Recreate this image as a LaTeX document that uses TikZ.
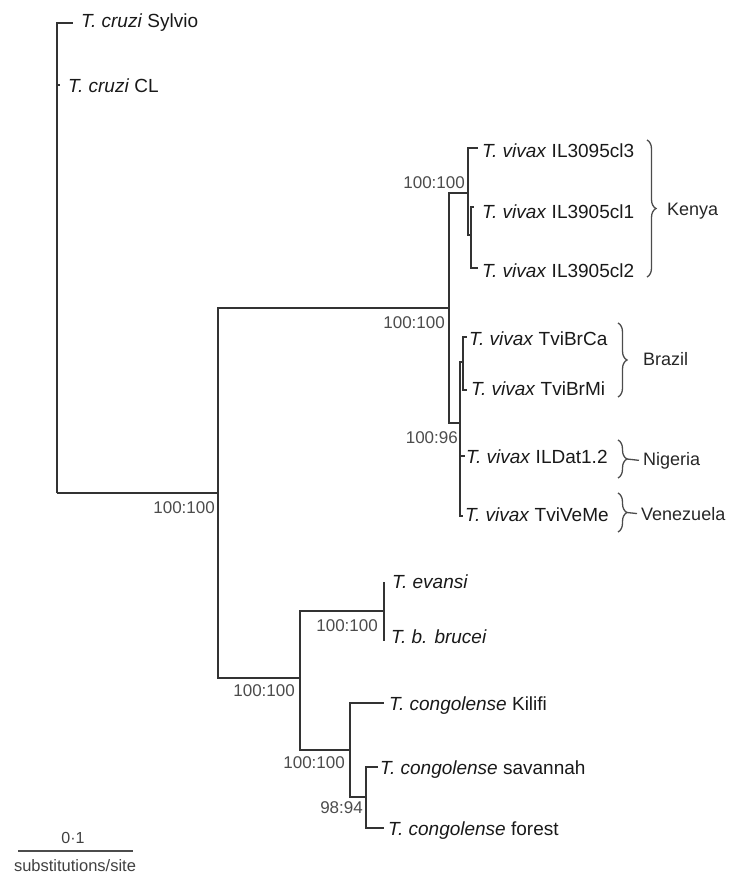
\documentclass[tikz,border=0pt]{standalone}
\usepackage{fontspec}
\setmainfont{Liberation Sans}
\usetikzlibrary{decorations.pathreplacing, calc}

\tikzset{
  branch/.style={draw=black!80, line width=2.4pt},
  taxon/.style={anchor=base west, inner sep=0pt, text=black!90, font=\fontsize{19}{21}\selectfont},
  support/.style={anchor=base east, inner sep=0pt, text=black!70, font=\fontsize{17}{19}\selectfont},
  region/.style={anchor=base west, inner sep=0pt, text=black!85, font=\fontsize{18}{20}\selectfont},
  grp/.style={draw=black!70, line width=1.3pt, decorate, decoration={brace, amplitude=9pt}},
}

\begin{document}
\begin{tikzpicture}[x=1pt, y=-1pt]
  \useasboundingbox (0,0) rectangle (729,873);
  % Internal nodes
  \coordinate (root) at (57,493);
  \coordinate (tryp) at (218,493);
  \coordinate (vivax) at (449,308);
  \coordinate (kenya) at (468,193);
  \coordinate (kenya2) at (471,235);
  \coordinate (viv96) at (460,423);
  \coordinate (brazil) at (463,362);
  \coordinate (salivar) at (300,678);
  \coordinate (brucei) at (384,611);
  \coordinate (congo) at (350,750);
  \coordinate (congo2) at (366,797);
  % Leaf tips
  \coordinate (tSylvio) at (73,23);
  \coordinate (tCL) at (60,85);
  \coordinate (tIL3) at (478,148);
  \coordinate (tIL1) at (474,207);
  \coordinate (tIL2) at (478,268);
  \coordinate (tBrCa) at (467,337);
  \coordinate (tBrMi) at (467,390);
  \coordinate (tILDat) at (465,456);
  \coordinate (tVeMe) at (463,516);
  \coordinate (tevansi) at (384,582);
  \coordinate (tbrucei) at (384,641);
  \coordinate (tKilifi) at (384,703);
  \coordinate (tsavannah) at (378,767);
  \coordinate (tforest) at (384,828);

  % Branches
  \draw[branch] (root) |- (tSylvio);
  \draw[branch] (root) |- (tCL);
  \draw[branch] (root) -- (tryp);
  \draw[branch] (tryp) |- (vivax);
  \draw[branch] (tryp) |- (salivar);
  \draw[branch] (vivax) |- (kenya);
  \draw[branch] (vivax) |- (viv96);
  \draw[branch] (kenya) |- (tIL3);
  \draw[branch] (kenya) |- (kenya2);
  \draw[branch] (kenya2) |- (tIL1);
  \draw[branch] (kenya2) |- (tIL2);
  \draw[branch] (viv96) |- (brazil);
  \draw[branch] (viv96) |- (tILDat);
  \draw[branch] (viv96) |- (tVeMe);
  \draw[branch] (brazil) |- (tBrCa);
  \draw[branch] (brazil) |- (tBrMi);
  \draw[branch] (salivar) |- (brucei);
  \draw[branch] (salivar) |- (congo);
  \draw[branch] (brucei) |- (tevansi);
  \draw[branch] (brucei) |- (tbrucei);
  \draw[branch] (congo) |- (tKilifi);
  \draw[branch] (congo) |- (congo2);
  \draw[branch] (congo2) |- (tsavannah);
  \draw[branch] (congo2) |- (tforest);

  % Taxa
  \node[taxon] (lSylvio) at (81,27) {\textit{T. cruzi} Sylvio};
  \node[taxon] (lCL) at (68,92) {\textit{T. cruzi} CL};
  \node[taxon] (lIL3) at (482,157) {\textit{T. vivax} IL3095cl3};
  \node[taxon] (lIL1) at (482,218) {\textit{T. vivax} IL3905cl1};
  \node[taxon] (lIL2) at (482,277) {\textit{T. vivax} IL3905cl2};
  \node[taxon] (lBrCa) at (469,345) {\textit{T. vivax} TviBrCa};
  \node[taxon] (lBrMi) at (471,395) {\textit{T. vivax} TviBrMi};
  \node[taxon] (lILDat) at (466,463) {\textit{T. vivax} ILDat1.2};
  \node[taxon] (lVeMe) at (465,521) {\textit{T. vivax} TviVeMe};
  \node[taxon] (levansi) at (392,588) {\textit{T. evansi}};
  \node[taxon] (lbrucei) at (391,643) {\textit{T. b. brucei}};
  \node[taxon] (lKilifi) at (389,710) {\textit{T. congolense} Kilifi};
  \node[taxon] (lsavannah) at (380,774) {\textit{T. congolense} savannah};
  \node[taxon] (lforest) at (388,835) {\textit{T. congolense} forest};

  % Bootstrap support
  \node[support] (sRoot) at (215,513) {100:100};
  \node[support] (sVivax) at (445,328) {100:100};
  \node[support] (sKenya) at (465,188) {100:100};
  \node[support] (sViv96) at (458,443) {100:96};
  \node[support] (sSalivar) at (295,696) {100:100};
  \node[support] (sBrucei) at (378,631) {100:100};
  \node[support] (sCongo) at (345,768) {100:100};
  \node[support] (sCongo2) at (363,813) {98:94};

  % Geographic groups
  \coordinate (kTop) at (647,140);
  \coordinate (kBot) at (647,277);
  \draw[grp] (kTop) -- (kBot);
  \node[region] (gKenya) at (667,215) {Kenya};
  \coordinate (bTop) at (618,323);
  \coordinate (bBot) at (618,397);
  \draw[grp] (bTop) -- (bBot);
  \node[region] (gBrazil) at (643,365) {Brazil};
  \coordinate (nTop) at (618,440);
  \coordinate (nBot) at (618,478);
  \draw[grp] (nTop) -- (nBot);
  \node[region] (gNigeria) at (643,465) {Nigeria};
  \draw[draw=black!70, line width=1.3pt] ($(nTop)!0.5!(nBot)+(9,0)$) -- ([xshift=-4pt]gNigeria.west);
  \coordinate (vTop) at (618,493);
  \coordinate (vBot) at (618,532);
  \draw[grp] (vTop) -- (vBot);
  \node[region] (gVenez) at (641,520) {Venezuela};
  \draw[draw=black!70, line width=1.3pt] ($(vTop)!0.5!(vBot)+(9,0)$) -- ([xshift=-4pt]gVenez.west);

  % Scale bar
  \coordinate (sbL) at (18,851);
  \coordinate (sbR) at (133,851);
  \draw[draw=black!70, line width=2pt] (sbL) -- (sbR);
  \node[anchor=base, inner sep=0pt, text=black!75, font=\fontsize{16}{18}\selectfont] (sbVal) at (73,843) {0·1};
  \node[anchor=base, inner sep=0pt, text=black!75, font=\fontsize{16.5}{18}\selectfont] (sbUnit) at (75,871) {substitutions/site};
\end{tikzpicture}
\end{document}
